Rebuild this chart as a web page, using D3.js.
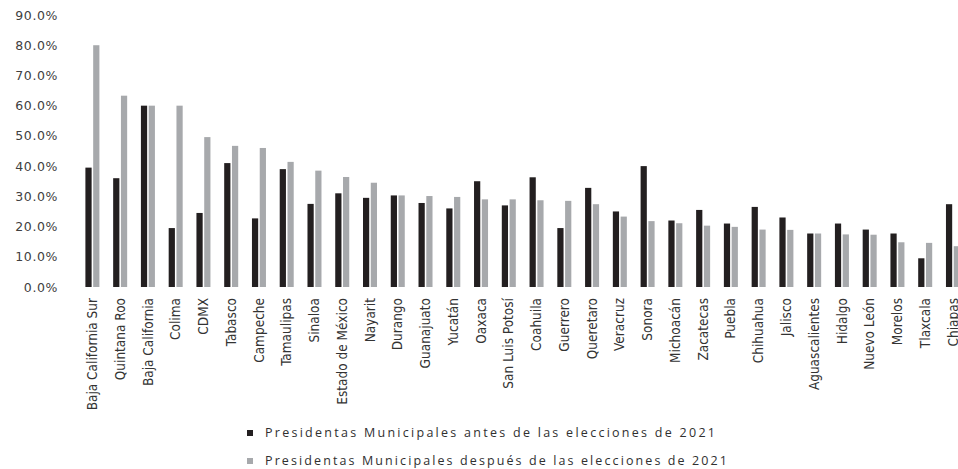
<!DOCTYPE html>
<html>
<head>
<meta charset="utf-8">
<script src="https://cdn.jsdelivr.net/npm/d3@7"></script>
<style>
  body { margin: 0; background: #fff; }
  svg { display: block; }
</style>
</head>
<body>
<svg id="chart"></svg>
<script>
const width = 958, height = 469;

const states = ["Baja California Sur", "Quintana Roo", "Baja California", "Colima", "CDMX",
  "Tabasco", "Campeche", "Tamaulipas", "Sinaloa", "Estado de México", "Nayarit", "Durango",
  "Guanajuato", "Yucatán", "Oaxaca", "San Luis Potosí", "Coahuila", "Guerrero", "Queretaro",
  "Veracruz", "Sonora", "Michoacán", "Zacatecas", "Puebla", "Chihuahua", "Jalisco",
  "Aguascalientes", "Hidalgo", "Nuevo León", "Morelos", "Tlaxcala", "Chiapas"];

// share of women mayors before the 2021 elections
const antes = [0.395, 0.36, 0.60, 0.195, 0.245, 0.41, 0.227, 0.39, 0.275, 0.31, 0.295, 0.303,
  0.278, 0.26, 0.35, 0.27, 0.363, 0.195, 0.328, 0.25, 0.40, 0.22, 0.255, 0.21, 0.265, 0.23,
  0.177, 0.21, 0.19, 0.177, 0.095, 0.274];

// share after the 2021 elections
const despues = [0.80, 0.633, 0.60, 0.60, 0.496, 0.467, 0.46, 0.414, 0.385, 0.364, 0.345, 0.303,
  0.301, 0.298, 0.29, 0.29, 0.287, 0.285, 0.274, 0.233, 0.218, 0.211, 0.203, 0.199, 0.19, 0.189,
  0.177, 0.174, 0.173, 0.148, 0.146, 0.135];

const yTicks = [0, 0.1, 0.2, 0.3, 0.4, 0.5, 0.6, 0.7, 0.8, 0.9];

const seriesNames = ["Presidentas Municipales antes de las elecciones de 2021",
  "Presidentas Municipales después de las elecciones de 2021"];
const seriesColors = ["#231f20", "#a7a9ac"];

const data = states.map((s, i) => ({ state: s, values: [antes[i], despues[i]] }));

const svg = d3.select("#chart").attr("width", width).attr("height", height);

// plot is wider than the picture, the last category gets clipped on the right
const x0 = d3.scaleBand()
  .domain(states)
  .range([78.4, 78.4 + 27.76 * states.length])
  .padding(0);

const x1 = d3.scaleBand()
  .domain([0, 1])
  .range([7, 21])
  .paddingInner(0.2);

const y = d3.scaleLinear()
  .domain([0, 0.9])
  .range([287, 15]);

// y axis, labels only
const yAxis = svg.append("g")
  .attr("transform", "translate(58,0)")
  .call(d3.axisLeft(y).tickValues(yTicks).tickFormat(d3.format(".1%")).tickSize(0).tickPadding(0));
yAxis.select(".domain").remove();
yAxis.selectAll("text")
  .style("font-family", "'DejaVu Sans', sans-serif")
  .style("font-size", "12.5px")
  .style("letter-spacing", "0.6px")
  .attr("fill", "#404040");

// bars
svg.append("g")
  .selectAll("g")
  .data(data)
  .join("g")
  .attr("transform", d => `translate(${x0(d.state)},0)`)
  .selectAll("rect")
  .data(d => d.values.map((v, k) => ({ k, v })))
  .join("rect")
    .attr("x", d => x1(d.k))
    .attr("y", d => y(d.v))
    .attr("width", x1.bandwidth())
    .attr("height", d => y(0) - y(d.v))
    .attr("fill", d => seriesColors[d.k]);

// category labels
const xAxis = svg.append("g")
  .attr("transform", "translate(0,298)")
  .call(d3.axisBottom(x0).tickSize(0).tickPadding(0));
xAxis.select(".domain").remove();
xAxis.selectAll("text")
  .attr("transform", "rotate(-90)")
  .attr("text-anchor", "end")
  .attr("x", 0)
  .attr("y", 0)
  .attr("dy", "0.35em")
  .attr("dx", "0")
  .style("font-family", "'Liberation Sans Narrow', 'DejaVu Sans Condensed', sans-serif")
  .style("font-size", "13.5px")
  .attr("fill", "#333");

// legend
const legend = svg.append("g").attr("transform", "translate(247,0)");
const rows = legend.selectAll("g")
  .data(seriesNames)
  .join("g")
  .attr("transform", (d, i) => `translate(0,${433 + i * 28})`);
rows.append("rect")
  .attr("x", 0).attr("y", -3)
  .attr("width", 6).attr("height", 6)
  .attr("fill", (d, i) => seriesColors[i]);
rows.append("text")
  .attr("x", 18)
  .attr("dy", "0.35em")
  .attr("textLength", (d, i) => i === 0 ? 450 : 462)
  .attr("lengthAdjust", "spacing")
  .style("font-family", "'Open Sans', sans-serif")
  .style("font-size", "12.5px")
  .attr("fill", "#303030")
  .text(d => d);
</script>
</body>
</html>
